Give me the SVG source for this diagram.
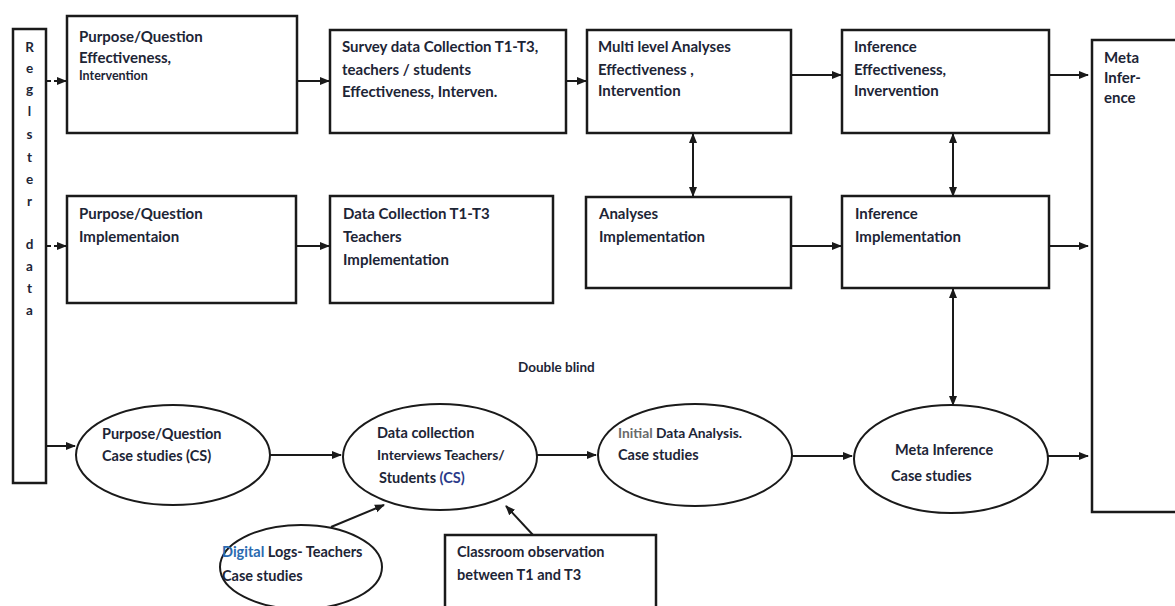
<svg xmlns="http://www.w3.org/2000/svg" width="1175" height="606" viewBox="0 0 1175 606">
<style>
.box{fill:#fff;stroke:#1a1a1a;stroke-width:2.5}
.ell{fill:#fff;stroke:#1a1a1a;stroke-width:2}
.t{font-family:"Lato","Liberation Sans",sans-serif;font-weight:700;font-size:15px;fill:#1d2536}
.l{font-size:14.5px}
.s{font-size:12.5px}
.v{font-family:"Lato","Liberation Sans",sans-serif;font-weight:700;font-size:13.5px;fill:#1d2536;text-anchor:middle}
.c{fill:none;stroke:#1a1a1a;stroke-width:2}
.d{fill:none;stroke:#1a1a1a;stroke-width:2;stroke-dasharray:5,3}
</style>
<defs>
<marker id="ah" viewBox="0 0 10 10" refX="9" refY="5" markerWidth="5" markerHeight="5" orient="auto-start-reverse">
<path d="M0,1 L10,5 L0,9 z" fill="#1a1a1a"/>
</marker>
</defs>
<rect width="1175" height="606" fill="#fff"/>

<g id="connectors">
<line class="d" x1="46" y1="81" x2="66" y2="81" marker-end="url(#ah)"/>
<line class="d" x1="46" y1="246" x2="66" y2="246" marker-end="url(#ah)"/>
<line class="c" x1="297" y1="81" x2="329" y2="81" marker-end="url(#ah)"/>
<line class="c" x1="566" y1="81" x2="586" y2="81" marker-end="url(#ah)"/>
<line class="c" x1="791" y1="75" x2="841" y2="75" marker-end="url(#ah)"/>
<line class="c" x1="1049" y1="75" x2="1088" y2="75" marker-end="url(#ah)"/>
<line class="c" x1="297" y1="246" x2="329" y2="246" marker-end="url(#ah)"/>
<line class="c" x1="791" y1="246" x2="841" y2="246" marker-end="url(#ah)"/>
<line class="c" x1="1049" y1="246" x2="1088" y2="246" marker-end="url(#ah)"/>
<line class="c" x1="693" y1="134" x2="693" y2="196" marker-start="url(#ah)" marker-end="url(#ah)"/>
<line class="c" x1="953" y1="134" x2="953" y2="196" marker-start="url(#ah)" marker-end="url(#ah)"/>
<line class="c" x1="953" y1="289" x2="953" y2="405" marker-start="url(#ah)" marker-end="url(#ah)"/>
<line class="c" x1="46" y1="446" x2="75" y2="446" marker-end="url(#ah)"/>
<line class="c" x1="270" y1="455" x2="341" y2="455" marker-end="url(#ah)"/>
<line class="c" x1="537" y1="455" x2="596" y2="455" marker-end="url(#ah)"/>
<line class="c" x1="792" y1="456" x2="852" y2="456" marker-end="url(#ah)"/>
<line class="c" x1="1048" y1="456" x2="1088" y2="456" marker-end="url(#ah)"/>
<line class="c" x1="331" y1="527" x2="384" y2="505" marker-end="url(#ah)"/>
<line class="c" x1="533" y1="535" x2="506" y2="506" marker-end="url(#ah)"/>
</g>

<g id="register">
<rect class="box" x="13" y="29" width="33" height="454"/>
<text class="v" x="29.5" y="52">R</text>
<text class="v" x="29.5" y="73">e</text>
<text class="v" x="29.5" y="94">g</text>
<text class="v" x="29.5" y="116">l</text>
<text class="v" x="29.5" y="139">s</text>
<text class="v" x="29.5" y="162">t</text>
<text class="v" x="29.5" y="184">e</text>
<text class="v" x="29.5" y="206" fill="#2a5a9a">r</text>
<text class="v" x="29.5" y="249">d</text>
<text class="v" x="29.5" y="271">a</text>
<text class="v" x="29.5" y="293">t</text>
<text class="v" x="29.5" y="315">a</text>
</g>

<g id="pq-eff">
<rect class="box" x="67" y="16" width="230" height="117"/>
<text class="t" x="79" y="42">Purpose/Question</text>
<text class="t" x="79" y="63">Effectiveness,</text>
<text class="t s" x="79" y="80">Intervention</text>
</g>

<g id="survey">
<rect class="box" x="330" y="30" width="236" height="103"/>
<text class="t" x="342" y="52">Survey data Collection T1-T3,</text>
<text class="t" x="342" y="75">teachers / students</text>
<text class="t" x="342" y="97">Effectiveness, Interven.</text>
</g>

<g id="multilevel">
<rect class="box" x="587" y="30" width="204" height="103"/>
<text class="t" x="598" y="52">Multi level Analyses</text>
<text class="t" x="598" y="75">Effectiveness ,</text>
<text class="t" x="598" y="96">Intervention</text>
</g>

<g id="inf-eff">
<rect class="box" x="842" y="30" width="207" height="103"/>
<text class="t" x="854" y="52">Inference</text>
<text class="t" x="854" y="75">Effectiveness,</text>
<text class="t" x="854" y="96">Invervention</text>
</g>

<g id="meta">
<rect class="box" x="1092" y="40" width="90" height="472"/>
<text class="t" x="1104" y="63">Meta</text>
<text class="t" x="1104" y="83">Infer-</text>
<text class="t" x="1104" y="103">ence</text>
</g>

<g id="pq-impl">
<rect class="box" x="67" y="196" width="229" height="107"/>
<text class="t" x="79" y="219">Purpose/Question</text>
<text class="t" x="79" y="242">Implementaion</text>
</g>

<g id="dc-impl">
<rect class="box" x="330" y="196" width="223" height="107"/>
<text class="t" x="343" y="219">Data Collection T1-T3</text>
<text class="t" x="343" y="242">Teachers</text>
<text class="t" x="343" y="265">Implementation</text>
</g>

<g id="an-impl">
<rect class="box" x="586" y="197" width="205" height="91"/>
<text class="t" x="599" y="219">Analyses</text>
<text class="t" x="599" y="242">Implementation</text>
</g>

<g id="inf-impl">
<rect class="box" x="842" y="196" width="207" height="92"/>
<text class="t" x="855" y="219">Inference</text>
<text class="t" x="855" y="242">Implementation</text>
</g>

<g id="double-blind">
<text class="t" x="518" y="372" style="font-size:13.5px">Double blind</text>
</g>

<g id="pq-cs">
<ellipse class="ell" cx="173" cy="455" rx="97" ry="50"/>
<text class="t l" x="102" y="439" fill="#3a4a6a">Purpose/Question</text>
<text class="t l" x="102" y="461">Case studies (CS)</text>
</g>

<g id="dc-cs">
<ellipse class="ell" cx="440" cy="457" rx="97" ry="53"/>
<text class="t l" x="377" y="438">Data collection</text>
<text class="t" x="377" y="460" style="font-size:13.8px">Interviews Teachers/</text>
<text class="t l" x="379" y="483">Students <tspan fill="#2a3a8a">(CS)</tspan></text>
</g>

<g id="init-cs">
<ellipse class="ell" cx="695" cy="455" rx="97" ry="51"/>
<text class="t" x="618" y="438" style="font-size:13.8px"><tspan fill="#6a6a6a">Initial</tspan> Data Analysis.</text>
<text class="t l" x="618" y="460">Case studies</text>
</g>

<g id="meta-cs">
<ellipse class="ell" cx="951" cy="459" rx="97" ry="54"/>
<text class="t l" x="895" y="455">Meta Inference</text>
<text class="t l" x="891" y="481">Case studies</text>
</g>

<g id="digital-logs">
<ellipse class="ell" cx="301" cy="567" rx="81" ry="42"/>
<text class="t l" x="222" y="557"><tspan fill="#2a6ab0">Digital</tspan> Logs- Teachers</text>
<text class="t l" x="222" y="581">Case studies</text>
</g>

<g id="classroom">
<rect class="box" x="445" y="535" width="211" height="80"/>
<text class="t l" x="457" y="557">Classroom observation</text>
<text class="t l" x="457" y="580">between T1 and T3</text>
</g>
</svg>
